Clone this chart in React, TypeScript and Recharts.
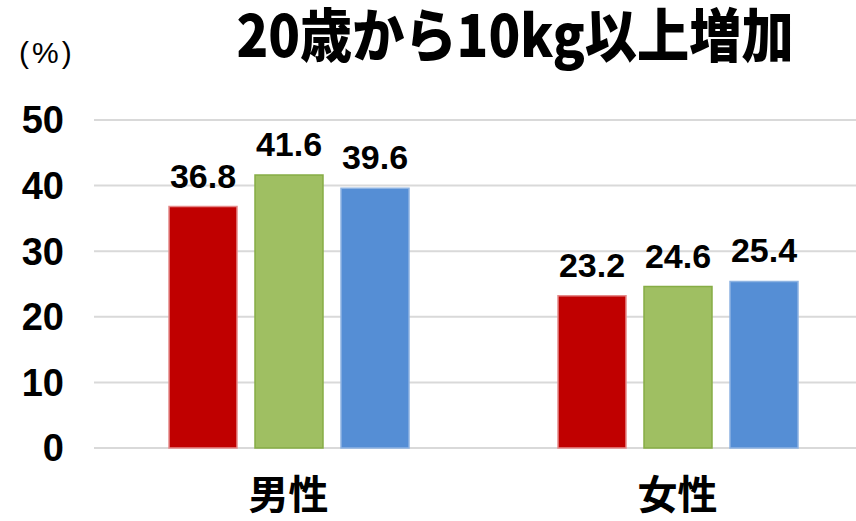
import React from 'react';
import { BarChart, Bar, XAxis, YAxis, CartesianGrid, LabelList } from 'recharts';

const categories = ['男性', '女性'];
const seriesRed = [36.8, 23.2];
const seriesGreen = [41.6, 24.6];
const seriesBlue = [39.6, 25.4];
const yTicks = [0, 10, 20, 30, 40, 50];

const data = categories.map((name, i) => ({
  name,
  red: seriesRed[i],
  green: seriesGreen[i],
  blue: seriesBlue[i],
}));

const numFont = '"Liberation Sans", Arial, "Noto Sans CJK JP", sans-serif';
const cjkFont = '"Noto Sans CJK JP", "Liberation Sans", sans-serif';

const labelStyle = { fontSize: 34, fontWeight: 700, fill: '#000', fontFamily: numFont };

export default function App() {
  return (
    <div style={{ position: 'absolute', left: 0, top: 0, width: 856, height: 521, overflow: 'hidden', background: '#fff' }}>
      <div
        style={{
          position: 'absolute',
          left: 165,
          width: 700,
          top: 3,
          textAlign: 'center',
          fontFamily: cjkFont,
          fontWeight: 900,
          fontSize: 58,
          lineHeight: '58px',
          whiteSpace: 'nowrap',
          color: '#000',
          transform: 'scaleX(0.9)',
          transformOrigin: '350px 50%',
        }}
      >
        20歳から10kg以上増加
      </div>
      <div
        style={{
          position: 'absolute',
          left: 19,
          top: 36,
          fontFamily: numFont,
          fontWeight: 400,
          fontSize: 30,
          letterSpacing: 3,
          lineHeight: '34px',
          color: '#000',
        }}
      >
        (%)
      </div>
      <BarChart
        width={872}
        height={521}
        data={data}
        margin={{ top: 120, right: 0, left: 0, bottom: 0 }}
        barSize={68}
        barGap={18}
        style={{ position: 'absolute', left: 0, top: 0 }}
      >
        <CartesianGrid vertical={false} stroke="#d9d9d9" strokeWidth={2} />
        <XAxis
          dataKey="name"
          height={73}
          axisLine={false}
          tickLine={false}
          tickMargin={27}
          tick={{ fontSize: 40, fontWeight: 700, fill: '#000', fontFamily: cjkFont }}
        />
        <YAxis
          width={94}
          domain={[0, 50]}
          ticks={yTicks}
          axisLine={false}
          tickLine={false}
          tickMargin={24}
          tick={{ fontSize: 38, fontWeight: 700, fill: '#000', fontFamily: numFont }}
        />
        <Bar dataKey="red" fill="#C00000" stroke="#e58a8a" strokeWidth={1.5} isAnimationActive={false}>
          <LabelList dataKey="red" position="top" offset={19} style={labelStyle} />
        </Bar>
        <Bar dataKey="green" fill="#9FBF62" stroke="#86AD45" strokeWidth={1.5} isAnimationActive={false}>
          <LabelList dataKey="green" position="top" offset={19} style={labelStyle} />
        </Bar>
        <Bar dataKey="blue" fill="#558ED5" stroke="#8DB3E2" strokeWidth={1.5} isAnimationActive={false}>
          <LabelList dataKey="blue" position="top" offset={19} style={labelStyle} />
        </Bar>
      </BarChart>
    </div>
  );
}
